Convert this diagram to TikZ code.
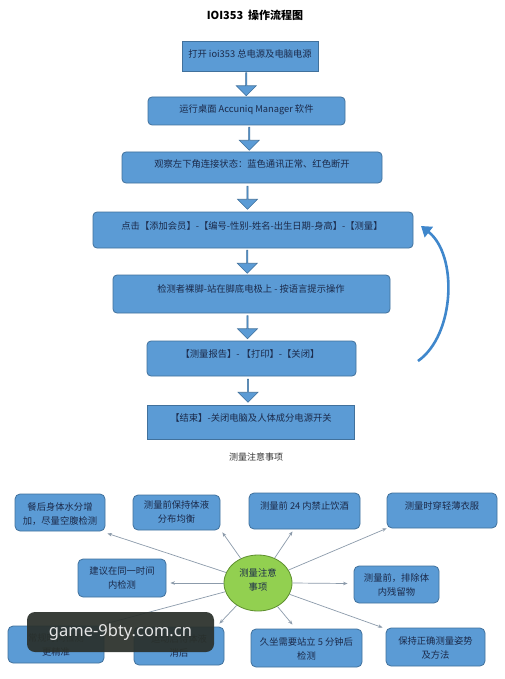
\documentclass[tikz,border=0pt]{standalone}
\usepackage{fontspec}
\setmainfont{Noto Sans CJK SC}
\newfontfamily\wmfont{Noto Sans}
\usetikzlibrary{arrows.meta,shapes.arrows,shapes.geometric,calc}
\definecolor{boxfill}{HTML}{5B9BD5}
\definecolor{boxline}{HTML}{41719C}
\definecolor{boxtext}{HTML}{1B2A4A}
\definecolor{elfill}{HTML}{92D050}
\definecolor{elline}{HTML}{5E8F2E}
\definecolor{conncol}{HTML}{8C9BAB}
\definecolor{loopcol}{HTML}{3F87CC}
\definecolor{wmbg}{HTML}{2A302B}
\tikzset{
  fbox/.style={draw=boxline, fill=boxfill, line width=0.8pt, inner sep=0pt},
  rbox/.style={fbox, rounded corners=4pt},
  mbox/.style={fbox, rounded corners=5pt},
  txt/.style={text=boxtext, font=\fontsize{9.3}{14}\selectfont, align=center, inner sep=0pt},
  downarrow/.style={single arrow, draw=boxline, fill=boxfill, line width=0.6pt, rotate=-90,
    minimum height=23pt, minimum width=20pt, single arrow head extend=5pt, inner sep=0pt},
  conn/.style={draw=conncol, line width=0.7pt, -{Stealth[length=4.5pt,width=3.5pt]}},
}
\begin{document}
\begin{tikzpicture}[x=1pt,y=-1pt]
\fill[white] (0,0) rectangle (505,679);
\useasboundingbox (0,0) rectangle (505,679);

\node[font=\fontsize{11}{13}\selectfont\bfseries, text=black] (title) at (255,15) {IOI353\ \ 操作流程图};

% flow boxes
\node[fbox, minimum width=136pt, minimum height=30pt] (b1) at (250,56) {};
\node[txt] (t1) at (250,54) {打开 ioi353 总电源及电脑电源};
\node[rbox, minimum width=197pt, minimum height=28pt] (b2) at (246.5,111) {};
\node[txt] (t2) at (246.5,109.5) {运行桌面 Accuniq Manager 软件};
\node[rbox, minimum width=260pt, minimum height=31pt] (b3) at (252,167.5) {};
\node[txt] (t3) at (252,164) {观察左下角连接状态：蓝色通讯正常、红色断开};
\node[rbox, minimum width=320pt, minimum height=36pt] (b4) at (253,230) {};
\node[txt] (t4) at (252,226) {点击【添加会员】-【编号-性别-姓名-出生日期-身高】-【测量】};
\node[rbox, minimum width=277pt, minimum height=38pt] (b5) at (251.5,294) {};
\node[txt] (t5) at (251,288.5) {检测者裸脚-站在脚底电极上\ -\ 按语言提示操作};
\node[rbox, minimum width=209pt, minimum height=35pt] (b6) at (251.5,358.5) {};
\node[txt] (t6) at (250,354) {【测量报告】-\ 【打印】-【关闭】};
\node[fbox, minimum width=207pt, minimum height=34pt] (b7) at (250.5,422) {};
\node[txt] (t7) at (251,417.5) {【结束】-关闭电脑及人体成分电源开关};

% block arrows
\node[downarrow] (a1) at ($(b1.south)!0.5!(b2.north)+(-2,0)$) {};
\node[downarrow] (a2) at ($(b2.south)!0.5!(b3.north)$) {};
\node[downarrow] (a3) at ($(b3.south)!0.5!(b4.north)+(-5,0)$) {};
\node[downarrow] (a4) at ($(b4.south)!0.5!(b5.north)+(-5,0)$) {};
\node[downarrow] (a5) at ($(b5.south)!0.5!(b6.north)+(-4,0)$) {};
\node[downarrow] (a6) at ($(b6.south)!0.5!(b7.north)+(-3,0)$) {};

% loop arrow
\coordinate (loopS) at (418,361);
\coordinate (loopE) at (421,226);
\draw[loopcol, line width=2.6pt, -{Triangle[length=10pt,width=13pt]}]
  (loopS) .. controls (455,335) and (458,255) .. (loopE);

% subtitle
\node[font=\fontsize{9}{11}\selectfont, text=black!80] (sub) at (256,457) {测量注意事项};

% mind map
\node[ellipse, draw=elline, fill=elfill, line width=0.8pt, minimum width=68pt, minimum height=56pt, inner sep=0pt] (c) at (258,583) {};
\node[txt] (ct) at (258,580) {测量注意\\事项};

\node[mbox, minimum width=90pt, minimum height=37pt] (A) at (60,512.5) {};
\node[txt] (At) at (60,514) {餐后身体水分增\\加，尽量空腹检测};
\node[mbox, minimum width=87pt, minimum height=35pt] (B) at (176.5,512.5) {};
\node[txt] (Bt) at (176.5,512) {测量前保持体液\\分布均衡};
\node[mbox, minimum width=111pt, minimum height=36pt] (C) at (304.5,511) {};
\node[txt] (Ct) at (304.5,506) {测量前 24 内禁止饮酒};
\node[mbox, minimum width=110pt, minimum height=35pt] (D) at (442,510.5) {};
\node[txt] (Dt) at (442,506) {测量时穿轻薄衣服};
\node[mbox, minimum width=88pt, minimum height=38pt] (E) at (122,578) {};
\node[txt] (Et) at (122,578) {建议在同一时间\\内检测};
\node[mbox, minimum width=85pt, minimum height=37pt] (F) at (396.5,584.5) {};
\node[txt] (Ft) at (396.5,585) {测量前，排除体\\内残留物};
\node[mbox, minimum width=96pt, minimum height=37pt] (G) at (56,644.5) {};
\node[txt] (Gt) at (56,645) {常规时间检测\\更精准};
\node[mbox, minimum width=90pt, minimum height=38pt] (H) at (179,646) {};
\node[txt] (Ht) at (179,645.5) {运动后待体液\\消后};
\node[mbox, minimum width=111pt, minimum height=38pt] (I) at (306.5,648) {};
\node[txt] (It) at (306.5,649) {久坐需要站立 5 分钟后\\检测};
\node[mbox, minimum width=99pt, minimum height=38pt] (J) at (435.5,647) {};
\node[txt] (Jt) at (435.5,648) {保持正确测量姿势\\及方法};

% connectors
\draw[conn] (c) -- ($(A.south east)+(2,2)$);
\draw[conn] (c) -- ($(B.south east)+(2,2)$);
\draw[conn] (c) -- ($(C.south)+(-12,2)$);
\draw[conn] (c) -- (D.south west);
\draw[conn] (c.west) -- ($(E.east)+(4,5)$);
\draw[conn] (c.east) -- ($(F.west)+(-6,-1)$);
\draw[conn] (c) -- ($(G.north east)+(2,-2)$);
\draw[conn] (c) -- ($(H.north east)+(-5,-3)$);
\draw[conn] (c) -- ($(I.north)+(-14,-4)$);
\draw[conn] (c) -- ($(J.north west)+(-3,0)$);

% watermark
\node[fill=wmbg, fill opacity=0.93, text opacity=1, rounded corners=8pt, minimum width=187pt, minimum height=40pt, inner sep=0pt,
  text=white!90!black, font=\wmfont\fontsize{16.5}{18}\selectfont] (wm) at (120.5,632) {game-9bty.com.cn};
\end{tikzpicture}
\end{document}
